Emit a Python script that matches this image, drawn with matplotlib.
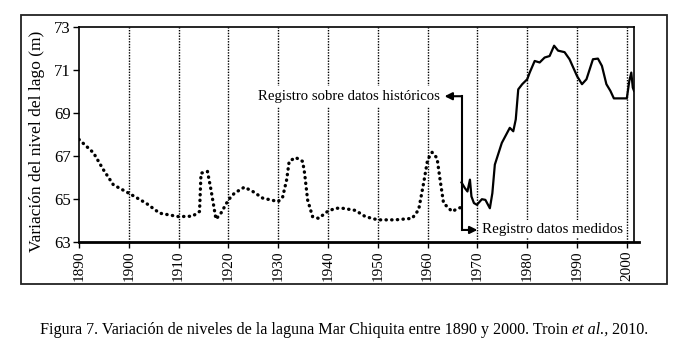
import matplotlib
matplotlib.use('Agg')
import matplotlib.pyplot as plt
from matplotlib.patches import Rectangle

# Historical (reconstructed) lake levels, dotted
hist_years = [1890, 1892.9, 1894.9, 1896.9, 1900, 1903.5, 1906.2, 1910, 1912.8, 1914.2,
              1914.5, 1915.8, 1916.5, 1917.5, 1918.5, 1920, 1921.2, 1923.2, 1924.9, 1926.9,
              1930, 1930.9, 1931.7, 1932.2, 1933.5, 1934.9, 1935.3, 1935.9, 1936.9, 1938.1,
              1939.9, 1941.5, 1942.9, 1945.5, 1947.5, 1950, 1953.5, 1956.9, 1958.2, 1959.2,
              1960, 1960.9, 1961.9, 1962.5, 1963.2, 1964.9, 1966.2, 1966.6]
hist_levels = [67.77, 67.15, 66.36, 65.66, 65.27, 64.8, 64.34, 64.18, 64.2, 64.42,
               66.2, 66.28, 65.43, 64.06, 64.34, 64.96, 65.27, 65.55, 65.35, 65.04,
               64.88, 65.1, 65.9, 66.75, 66.93, 66.75, 66.2, 64.96, 64.18, 64.1,
               64.42, 64.57, 64.57, 64.47, 64.18, 64.03, 64.03, 64.1, 64.5, 65.74,
               66.83, 67.17, 66.9, 65.9, 64.81, 64.42, 64.57, 64.6]

# Measured lake levels, solid
meas_years = [1966.8, 1967.5, 1968, 1968.5, 1968.8, 1969.3, 1969.9, 1970.9, 1971.6, 1972.5,
              1973, 1973.5, 1974.9, 1976.5, 1977.2, 1977.7, 1978.2, 1979, 1980, 1980.5,
              1981.5, 1982.5, 1983.5, 1984.5, 1985.4, 1986.2, 1987.5, 1988.5, 1990, 1991,
              1991.9, 1993.2, 1994.2, 1995, 1995.9, 1996.7, 1997.4, 2000, 2000.5, 2000.9,
              2001.2, 2001.45]
meas_levels = [65.77, 65.5, 65.35, 65.9, 65.12, 64.81, 64.73, 64.99, 64.96, 64.57,
               65.27, 66.6, 67.61, 68.31, 68.15, 68.7, 70.1, 70.34, 70.57, 70.88,
               71.42, 71.35, 71.58, 71.65, 72.13, 71.9, 71.83, 71.5, 70.72, 70.34,
               70.57, 71.5, 71.53, 71.19, 70.34, 70.03, 69.68, 69.68, 70.49, 70.88,
               70.18, 70.03]

decades = list(range(1890, 2001, 10))
y_ticks = [63, 65, 67, 69, 71, 73]

plt.rcParams['font.family'] = ['Liberation Serif', 'DejaVu Serif']

fig = plt.figure(figsize=(6.73, 3.47), dpi=100)
ax = fig.add_axes([0.1174, 0.3026, 0.8247, 0.6196])

# outer frame around the whole figure panel
fig.patches.append(Rectangle((0.0312, 0.1816), 0.9598, 0.7752, transform=fig.transFigure,
                             fill=False, edgecolor='#222222', lw=1.3))

# vertical decade guides
for d in decades[1:]:
    ax.axvline(d, color='k', lw=1.0, linestyle=(0, (1, 1)), zorder=1)

ax.plot(hist_years, hist_levels, color='k', lw=2.4, linestyle=(0, (0.1, 1.6)),
        dash_capstyle='round', zorder=3)
ax.plot(meas_years, meas_levels, color='k', lw=1.6, zorder=3)

ax.set_xlim(1890, 2001.45)
ax.set_ylim(63, 73)
ax.set_xticks(decades)
ax.set_xticklabels([str(d) for d in decades], rotation=90, fontsize=11)
ax.set_yticks(y_ticks)
ax.set_yticklabels([str(v) for v in y_ticks], fontsize=12)
ax.tick_params(axis='both', direction='out', length=4, width=1, pad=2)
ax.set_ylabel('Variación del nivel del lago (m)', fontsize=12.5)
ax.yaxis.set_label_coords(-0.062, 0.47)

for side in ['top', 'left', 'right']:
    ax.spines[side].set_linewidth(1.2)
ax.spines['bottom'].set_visible(False)
ax.plot([0, 1.009], [0, 0], transform=ax.transAxes, color='k', lw=2, clip_on=False, zorder=5)

# annotation arrows separating both records
split = 1966.9
ax.plot([split, split], [69.78, 63.56], color='k', lw=1.5, zorder=4)
ax.annotate('', xy=(1963.4, 69.78), xytext=(split, 69.78),
            arrowprops=dict(arrowstyle='-|>', color='k', lw=1.5, mutation_scale=11,
                            shrinkA=0, shrinkB=0))
ax.annotate('', xy=(1970.0, 63.56), xytext=(split, 63.56),
            arrowprops=dict(arrowstyle='-|>', color='k', lw=1.5, mutation_scale=11,
                            shrinkA=0, shrinkB=0))
ax.text(1962.4, 69.78, 'Registro sobre datos históricos', ha='right', va='center',
        fontsize=10.6, zorder=2,
        bbox=dict(facecolor='white', edgecolor='none', pad=3))
ax.text(1970.9, 63.6, 'Registro datos medidos', ha='left', va='center', fontsize=10.8, zorder=2,
        bbox=dict(facecolor='white', edgecolor='none', pad=2))

# caption with italic "et al.,"
renderer = fig.canvas.get_renderer()
cap_y = 0.049
t1 = fig.text(0.0594, cap_y, 'Figura 7. Variación de niveles de la laguna Mar Chiquita entre 1890 y 2000. Troin ',
              fontsize=11.6, va='center')
bb = t1.get_window_extent(renderer).transformed(fig.transFigure.inverted())
t2 = fig.text(bb.x1, cap_y, 'et al.,', fontsize=11.6, va='center', style='italic')
bb2 = t2.get_window_extent(renderer).transformed(fig.transFigure.inverted())
fig.text(bb2.x1, cap_y, ' 2010.', fontsize=11.6, va='center')

fig.savefig('out.png', dpi=100)
